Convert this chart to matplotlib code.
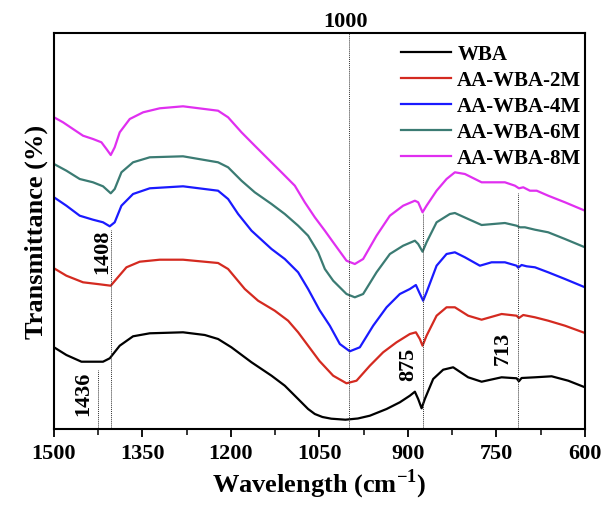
import numpy as np
import matplotlib
matplotlib.use('Agg')
import matplotlib.pyplot as plt

plt.rcParams['font.family'] = ['Liberation Serif', 'DejaVu Serif']
plt.rcParams['font.weight'] = 'bold'
plt.rcParams['mathtext.fontset'] = 'custom'
plt.rcParams['mathtext.rm'] = 'Liberation Serif:bold'
plt.rcParams['mathtext.bf'] = 'Liberation Serif:bold'

# wavenumber (cm-1) and relative transmittance (arbitrary units, stacked offsets)
w_wba = [1500, 1479.0, 1453.5, 1416.9, 1405.5, 1388.6, 1366.0, 1337.7, 1281.3, 1244.4, 1221.9, 1199.3, 1165.2,
         1131.3, 1108.8, 1086.2, 1069.3, 1057.9, 1045.0, 1030.0, 1006.0, 985.0, 964.6, 936.3, 913.8, 896.8, 888.3,
         882.7, 876.9, 871.4, 857.3, 840.3, 823.4, 798.0, 775.2, 741.3, 715.9, 712.0, 707.4, 684.8, 656.5, 628.4, 600]
t_wba = [81.7, 74.0, 67.3, 67.3, 70.7, 83.3, 92.7, 95.7, 96.7, 94.0, 90.0, 81.7, 66.7,
         53.3, 43.3, 30.0, 20.0, 15.0, 12.0, 10.3, 9.3, 10.5, 13.3, 20.0, 26.7, 33.3, 37.3,
         30.0, 20.7, 30.0, 50.0, 59.3, 61.7, 51.7, 47.3, 51.7, 50.7, 47.7, 51.0, 51.7, 52.7, 48.3, 41.7]

w_2m = [1500, 1479.0, 1450.8, 1422.5, 1403.8, 1394.2, 1377.2, 1354.7, 1320.8, 1281.3, 1221.9, 1204.9, 1176.6,
        1154.1, 1125.8, 1103.2, 1086.2, 1069.3, 1050.0, 1026.8, 1004.2, 987.2, 964.6, 942.1, 919.4, 896.8, 886.6,
        879.9, 875.3, 868.5, 851.5, 834.6, 820.5, 798.0, 775.2, 741.3, 715.9, 712.0, 704.6, 684.8, 662.3, 633.9, 600]
t_2m = [160.7, 153.3, 146.7, 144.7, 143.3, 150.0, 161.7, 167.3, 169.3, 169.3, 166.0, 160.0, 140.0,
        128.3, 118.3, 108.3, 96.7, 83.3, 68.0, 53.3, 45.7, 48.3, 63.3, 76.7, 86.7, 95.0, 96.7,
        90.0, 83.3, 93.3, 113.3, 121.7, 121.7, 113.3, 109.3, 115.0, 113.3, 111.0, 114.0, 111.7, 108.3, 103.3, 96.0]

w_4m = [1500, 1479.0, 1456.4, 1433.9, 1416.9, 1405.5, 1397.1, 1385.7, 1366.0, 1337.7, 1281.3, 1221.9, 1204.9,
        1187.9, 1165.2, 1131.3, 1108.8, 1086.2, 1069.3, 1050.0, 1032.5, 1015.5, 998.6, 981.6, 959.0, 936.3, 913.8,
        896.8, 886.6, 881.0, 874.3, 868.5, 851.5, 834.6, 820.5, 803.5, 778.1, 758.3, 735.7, 715.9, 713.2, 707.4,
        698.9, 684.8, 662.3, 633.9, 600]
t_4m = [231.7, 223.3, 213.3, 209.3, 206.7, 202.7, 206.7, 223.3, 235.0, 240.7, 242.7, 238.3, 230.0,
        215.0, 198.3, 180.0, 170.0, 156.7, 140.0, 119.0, 103.3, 85.0, 77.7, 81.7, 103.3, 121.7, 135.0,
        140.0, 144.0, 136.7, 128.3, 136.7, 163.3, 175.0, 176.7, 171.7, 163.3, 166.7, 166.7, 163.3, 161.3, 164.0,
        162.7, 161.7, 156.7, 150.0, 141.7]

w_6m = [1500, 1479.0, 1456.4, 1433.9, 1416.9, 1403.8, 1397.1, 1385.7, 1366.0, 1337.7, 1281.3, 1221.9, 1204.9,
        1182.2, 1159.7, 1131.3, 1108.8, 1086.2, 1069.3, 1052.3, 1040.9, 1026.8, 1004.2, 990.1, 976.0, 953.3, 930.7,
        908.2, 888.3, 882.7, 875.3, 868.5, 851.5, 829.0, 820.5, 798.0, 775.2, 735.7, 715.9, 710.3, 701.8, 684.8,
        662.3, 633.9, 600]
t_6m = [265.0, 258.3, 250.0, 246.7, 242.7, 235.7, 240.0, 256.7, 266.7, 271.7, 272.7, 266.7, 261.7,
        248.3, 236.7, 225.0, 215.0, 203.3, 193.3, 176.7, 160.0, 148.3, 135.0, 131.7, 135.0, 156.7, 175.0,
        183.3, 188.3, 185.0, 177.3, 186.7, 206.7, 215.0, 216.0, 210.0, 204.0, 206.0, 203.3, 201.7, 201.7, 199.3,
        196.7, 190.0, 181.7]

w_8m = [1500, 1484.7, 1467.8, 1450.8, 1433.9, 1419.6, 1411.1, 1403.8, 1397.1, 1388.6, 1371.6, 1348.9, 1320.8,
        1281.3, 1221.9, 1204.9, 1182.2, 1159.7, 1137.1, 1114.4, 1091.8, 1074.9, 1057.9, 1040.9, 1026.8, 1004.2,
        990.1, 976.0, 953.3, 930.7, 908.2, 888.3, 882.7, 875.3, 868.5, 851.5, 834.6, 820.5, 803.5, 775.2, 735.7,
        718.7, 711.9, 704.6, 693.3, 681.8, 662.3, 633.9, 600]
t_8m = [311.7, 306.7, 300.0, 293.3, 290.0, 286.7, 280.0, 274.0, 281.7, 296.7, 310.0, 316.7, 320.7,
        322.7, 318.3, 311.7, 296.7, 283.3, 270.0, 256.7, 243.3, 226.7, 211.7, 198.3, 186.7, 168.3,
        165.0, 170.0, 193.3, 213.3, 223.3, 228.3, 226.7, 216.7, 223.3, 238.3, 250.0, 256.7, 255.0, 246.7, 246.7,
        243.3, 240.7, 241.7, 238.3, 238.3, 233.3, 226.7, 218.3]

labels = ['WBA', 'AA-WBA-2M', 'AA-WBA-4M', 'AA-WBA-6M', 'AA-WBA-8M']
colors = ['#000000', '#d42a20', '#1a1aff', '#3b7b73', '#e02ff0']

# peak markers: line position, line top, label text, label position
peak_x = [1000, 875, 713, 1404, 1425]
peak_top = [396, 216, 236, 199, 59]
peak_lab = ['1000', '875', '713', '1408', '1436']
lab_x = [1006, 900, 738.6, 1418, 1451]
lab_y = [408, 66, 82, 178, 36]
lab_rot = [0, 90, 90, 90, 90]

fig = plt.figure(figsize=(6.02, 5.06), dpi=100)
ax = fig.add_axes([0.0897, 0.1502, 0.882, 0.7826])

series = [(w_wba, t_wba), (w_2m, t_2m), (w_4m, t_4m), (w_6m, t_6m), (w_8m, t_8m)]
for (w, t), lab, c in zip(series, labels, colors):
    ax.plot(w, t, color=c, lw=1.6, label=lab, solid_joinstyle='round')

for px, top in zip(peak_x, peak_top):
    ax.plot([px, px], [0, top], color='#333333', lw=0.7, ls=(0, (1, 1)))
for s, x, y, r in zip(peak_lab, lab_x, lab_y, lab_rot):
    ax.text(x, y, s, rotation=r, ha='center', va='center', fontsize=16, fontweight='bold', clip_on=False)

ax.set_xlim(1500, 600)
ax.set_ylim(0, 396)
ax.set_xticks([1500, 1350, 1200, 1050, 900, 750, 600])
ax.set_xticks([1425, 1275, 1125, 975, 825, 675], minor=True)
ax.set_yticks([])
ax.tick_params(axis='x', which='major', direction='out', length=6, width=1.3, labelsize=16, pad=4)
ax.tick_params(axis='x', which='minor', direction='out', length=4, width=1.1)
for sp in ax.spines.values():
    sp.set_linewidth(1.5)

ax.set_xlabel('Wavelength (cm$^{\\mathbf{-1}}$)', fontsize=19, fontweight='bold', labelpad=3)
ax.set_ylabel('Transmittance (%)', fontsize=19, fontweight='bold', labelpad=4)

ax.legend(loc='upper right', bbox_to_anchor=(1.015, 1.0), frameon=False, fontsize=15, handlelength=2.4,
          handletextpad=0.3, labelspacing=0.28, borderaxespad=0.15)

fig.savefig('out.png', dpi=100)
